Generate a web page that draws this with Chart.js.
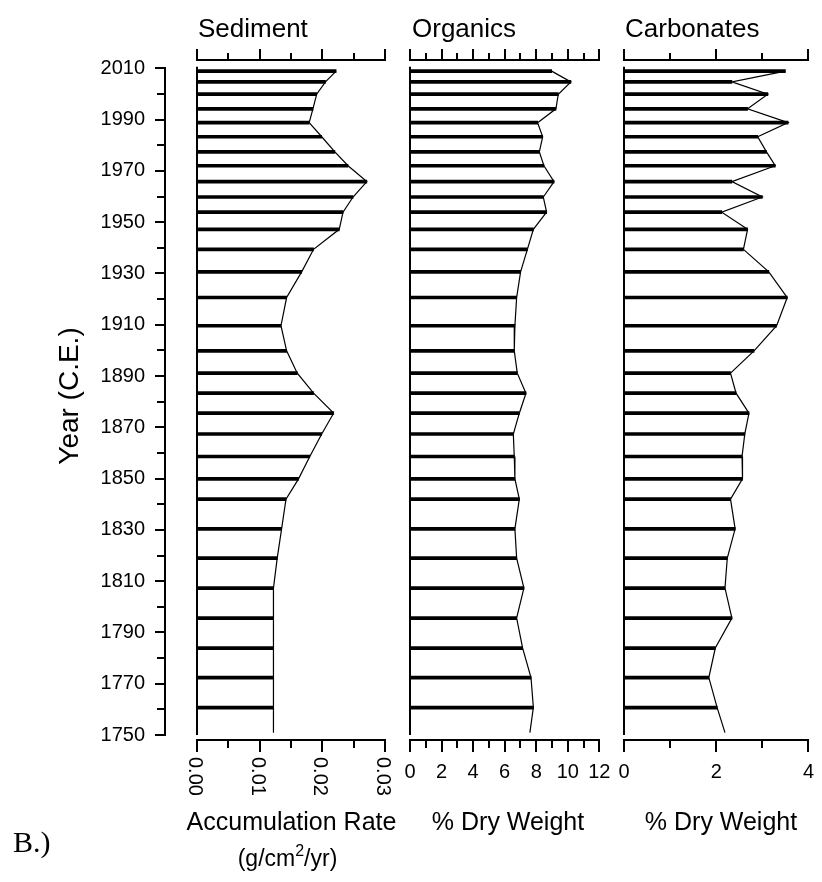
<!DOCTYPE html>
<html><head><meta charset="utf-8">
<script src="https://cdn.jsdelivr.net/npm/chart.js"></script>
<style>
html,body{margin:0;padding:0;background:#fff;}
#wrap{position:relative;width:822px;height:882px;background:#fff;}
#wrap canvas{position:absolute;left:0;top:0;}
</style></head><body>
<div id="wrap">
<canvas id="cYear" width="822" height="882"></canvas>
<canvas id="cSed" width="822" height="882"></canvas>
<canvas id="cOrg" width="822" height="882"></canvas>
<canvas id="cCarb" width="822" height="882"></canvas>
</div>
<script>
// ---------- data ----------
const years = [2008.9, 2004.7, 1999.9, 1994.2, 1988.8, 1983.3, 1977.4, 1972.0, 1965.8, 1959.8,
  1953.9, 1947.2, 1939.4, 1930.6, 1920.6, 1909.6, 1899.8, 1891.1, 1883.3, 1875.5,
  1867.4, 1858.6, 1849.9, 1842.0, 1830.4, 1819.0, 1807.3, 1795.6, 1783.9, 1772.4,
  1760.7, 1750.9];
// last row = base of the profile (no sample bar)
const barYears = years.slice(0, -1);
const sediment = [0.0222, 0.0205, 0.0191, 0.0185, 0.0179, 0.0199, 0.0220, 0.0241, 0.0271, 0.0249,
  0.0233, 0.0227, 0.0186, 0.0167, 0.0143, 0.0134, 0.0143, 0.0160, 0.0186, 0.0218,
  0.0199, 0.0180, 0.0162, 0.0142, 0.0135, 0.0128, 0.0122, 0.0122, 0.0122, 0.0122,
  0.0122, 0.0122];
const organics = [8.98, 10.2, 9.4, 9.25, 8.09, 8.41, 8.2, 8.49, 9.13, 8.45,
  8.66, 7.82, 7.44, 7.01, 6.76, 6.65, 6.61, 6.80, 7.35, 6.93,
  6.55, 6.61, 6.65, 6.93, 6.65, 6.76, 7.22, 6.76, 7.14, 7.67,
  7.82, 7.6];
const carbonates = [3.50, 2.34, 3.12, 2.68, 3.56, 2.90, 3.09, 3.28, 2.34, 3.00,
  2.12, 2.68, 2.59, 3.14, 3.54, 3.31, 2.82, 2.31, 2.43, 2.71,
  2.62, 2.56, 2.57, 2.31, 2.41, 2.24, 2.19, 2.34, 1.98, 1.84,
  2.02, 2.19];
const yearTicks = [1750, 1770, 1790, 1810, 1830, 1850, 1870, 1890, 1910, 1930, 1950, 1970, 1990, 2010];
const sedimentTicks = [0, 0.01, 0.02, 0.03];
const organicsTicks = [0, 2, 4, 6, 8, 10, 12];
const carbonatesTicks = [0, 2, 4];
const coreTopYear = 2010.6;

// ---------- layout ----------
const W = 822, H = 882;
const FONT = '"Liberation Sans", Arial, sans-serif';
const PX_PER_YEAR = (735 - 68.3) / 260;
const AREA_TOP = 60, AREA_BOTTOM = 740, BOTTOM_AXIS_H = 60, YAXIS_W = 165;
const yLo = 1750 - (AREA_BOTTOM - 735) / PX_PER_YEAR;
const yHi = 2010 + (68.3 - AREA_TOP) / PX_PER_YEAR;

Chart.defaults.font.family = FONT;
Chart.defaults.color = '#000';

function txt(ctx, s, x, y, size, align, rot, family) {
  ctx.save();
  ctx.translate(x, y);
  if (rot) ctx.rotate(rot);
  ctx.font = size + 'px ' + (family || FONT);
  ctx.fillStyle = '#000';
  ctx.textAlign = align || 'left';
  ctx.textBaseline = 'alphabetic';
  ctx.fillText(s, 0, 0);
  ctx.restore();
}

// text with a superscript part: parts = [[text, isSup], ...], centred at cx
function supText(ctx, parts, cx, y, size) {
  const supSize = Math.round(size * 0.68);
  ctx.save();
  ctx.fillStyle = '#000';
  ctx.textBaseline = 'alphabetic';
  ctx.textAlign = 'left';
  let total = 0;
  parts.forEach(p => { ctx.font = (p[1] ? supSize : size) + 'px ' + FONT; total += ctx.measureText(p[0]).width; });
  let x = cx - total / 2;
  parts.forEach(p => {
    ctx.font = (p[1] ? supSize : size) + 'px ' + FONT;
    ctx.fillText(p[0], x, p[1] ? y - size * 0.42 : y);
    x += ctx.measureText(p[0]).width;
  });
  ctx.restore();
}

function fixedTicks(arr) {
  return s => { s.ticks = arr.map(v => ({value: v})); };
}

function xAxis(pos, min, max, o) {
  return {
    type: 'linear', position: pos, min, max, offset: false, weight: o.weight || 0,
    afterFit: s => { s.height = o.h || 0; },
    afterBuildTicks: o.ticks ? fixedTicks(o.ticks) : undefined,
    grid: {drawOnChartArea: false, drawTicks: true, tickLength: o.len, lineWidth: 2, color: '#000', offset: false},
    border: {display: o.border, width: 2, color: '#000'},
    ticks: {display: !!o.labels, stepSize: o.step, autoSkip: false, maxRotation: 0, minRotation: 0,
      padding: 8, color: '#000', font: {size: 20, family: FONT}, callback: v => String(v)}
  };
}

function panel(id, vals, cfg) {
  const line = years.map((y, i) => ({x: vals[i], y}));
  const bars = barYears.map((y, i) => ({x: vals[i], y}));
  const textPlugin = {
    id: 'texts' + id,
    afterDraw(chart) {
      const ctx = chart.ctx;
      txt(ctx, cfg.title, cfg.titleX, 37, 26);
      txt(ctx, cfg.xlabel, cfg.xlabelX, 830, 25, 'center');
      if (cfg.xlabel2) supText(ctx, cfg.xlabel2, cfg.xlabelX - 4, 866, 23);
      if (cfg.rotLabels) {
        const sc = chart.scales.x;
        sc.ticks.forEach(t => {
          const px = sc.getPixelForValue(t.value);
          ctx.save();
          ctx.translate(px - 8, 757);
          ctx.rotate(Math.PI / 2);
          ctx.font = '20px ' + FONT;
          ctx.fillStyle = '#000';
          ctx.textAlign = 'left';
          ctx.textBaseline = 'alphabetic';
          ctx.fillText(t.value.toFixed(2), 0, 0);
          ctx.restore();
        });
      }
    }
  };
  return new Chart(document.getElementById(id), {
    type: 'bar',
    data: {datasets: [
      {type: 'bar', data: bars, backgroundColor: '#000', barThickness: 3, borderWidth: 0,
        xAxisID: 'x', yAxisID: 'y', clip: false},
      {type: 'line', data: line, borderColor: '#000', borderWidth: 1.2, pointRadius: 0, tension: 0,
        fill: false, xAxisID: 'x', yAxisID: 'y', clip: false},
      {type: 'line', data: [{x: cfg.min, y: 1750}, {x: cfg.min, y: coreTopYear}], borderColor: '#000',
        borderWidth: 2, pointRadius: 0, fill: false, xAxisID: 'x', yAxisID: 'y', clip: false}
    ]},
    options: {
      indexAxis: 'y', responsive: false, animation: false, events: [],
      layout: {padding: {left: cfg.left, right: W - cfg.right, top: AREA_TOP, bottom: H - AREA_BOTTOM - BOTTOM_AXIS_H}},
      plugins: {legend: {display: false}, tooltip: {enabled: false}, title: {display: false}},
      scales: {
        y: {type: 'linear', display: false, min: yLo, max: yHi, offset: false, grid: {offset: false}},
        x: xAxis('bottom', cfg.min, cfg.max, {ticks: cfg.ticks, len: 12, border: true, labels: !cfg.rotLabels, h: BOTTOM_AXIS_H, weight: 1}),
        xMinor: xAxis('bottom', cfg.min, cfg.max, {step: cfg.minor, len: 8, border: false, labels: false, weight: 0}),
        xTop: xAxis('top', cfg.min, cfg.max, {ticks: cfg.ticks, len: 11, border: true, labels: false, weight: 1}),
        xTopMinor: xAxis('top', cfg.min, cfg.max, {step: cfg.minor, len: 7, border: false, labels: false, weight: 0})
      }
    },
    plugins: [textPlugin]
  });
}

// ---------- year axis ----------
new Chart(document.getElementById('cYear'), {
  type: 'scatter',
  data: {datasets: []},
  options: {
    responsive: false, animation: false, events: [],
    layout: {padding: {left: 0, right: W - 180, top: 68.3, bottom: H - 735}},
    plugins: {legend: {display: false}, tooltip: {enabled: false}},
    scales: {
      x: {type: 'linear', display: false, min: 0, max: 1},
      y: {type: 'linear', position: 'left', min: 1750, max: 2010, weight: 1,
        afterFit: s => { s.width = YAXIS_W; },
        afterBuildTicks: fixedTicks(yearTicks),
        grid: {drawOnChartArea: false, tickLength: 10, lineWidth: 2, color: '#000'},
        border: {display: true, width: 2, color: '#000'},
        ticks: {padding: 10, color: '#000', font: {size: 20, family: FONT}, callback: v => String(v)}},
      yMinor: {type: 'linear', position: 'left', min: 1750, max: 2010, weight: 0,
        afterFit: s => { s.width = 0; },
        grid: {drawOnChartArea: false, tickLength: 8, lineWidth: 2, color: '#000'},
        border: {display: false},
        ticks: {display: false, stepSize: 10}}
    }
  },
  plugins: [{
    id: 'yearTexts',
    afterDraw(chart) {
      const ctx = chart.ctx;
      txt(ctx, 'Year (C.E.)', 78, 396, 28, 'center', -Math.PI / 2);
      txt(ctx, 'B.)', 13, 852, 30, 'left', 0, '"Liberation Serif", "Times New Roman", serif');
    }
  }]
});

panel('cSed', sediment, {left: 197, right: 385, min: 0, max: 0.03, ticks: sedimentTicks, minor: 0.005,
  title: 'Sediment', titleX: 198, xlabel: 'Accumulation Rate', xlabelX: 291.5,
  xlabel2: [['(g/cm', false], ['2', true], ['/yr)', false]], rotLabels: true});
panel('cOrg', organics, {left: 410, right: 599.3, min: 0, max: 12, ticks: organicsTicks, minor: 1,
  title: 'Organics', titleX: 412, xlabel: '% Dry Weight', xlabelX: 508});
panel('cCarb', carbonates, {left: 624, right: 812.3, min: 0, max: 4, ticks: carbonatesTicks, minor: 1,
  title: 'Carbonates', titleX: 625, xlabel: '% Dry Weight', xlabelX: 721});
</script>
</body></html>
